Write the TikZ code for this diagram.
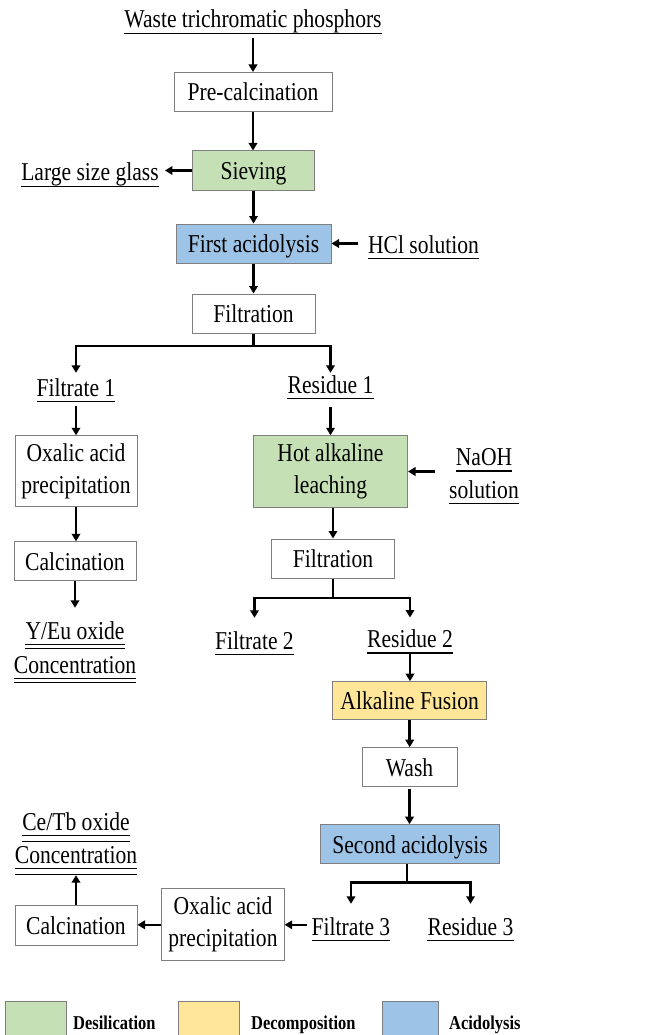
\documentclass[tikz,border=0pt]{standalone}
\usepackage{fontspec}
\setmainfont{Liberation Serif}[FakeStretch=0.84]
\usetikzlibrary{arrows.meta}
\definecolor{cgreen}{RGB}{197,224,180}
\definecolor{cyellow}{RGB}{255,230,153}
\definecolor{cblue}{RGB}{157,195,230}
\definecolor{cborder}{RGB}{127,127,127}
\newcommand{\mainfs}{\fontsize{25.7pt}{32pt}\selectfont}
\newcommand{\legfs}{\fontsize{19.6pt}{22pt}\selectfont\bfseries}
\begin{document}
\begin{tikzpicture}[x=1pt,y=-1pt,
  pbox/.style={draw=cborder, line width=1pt, inner sep=0pt, font=\mainfs, align=center},
  sbox/.style={pbox, text height=18.5pt, text depth=0.5pt},
  tx/.style={font=\mainfs, inner xsep=0pt, inner ysep=0pt, text height=17pt, text depth=5pt, anchor=base},
  arr/.style={line width=2.6pt, -{Triangle[length=7.5pt,width=8.5pt]}},
  ln/.style={line width=2.6pt},
  ul/.style={line width=1.2pt},
  legbox/.style={draw=cborder, line width=1pt},
  legtx/.style={font=\legfs, inner sep=0pt, anchor=base west}]
\useasboundingbox (0,0) rectangle (659,1035);

% ---------- main column ----------
\node[tx] (waste) at (253,28) {Waste trichromatic phosphors};
\node[sbox, minimum width=158pt, minimum height=39pt] (pre) at (253,92) {Pre-calcination};
\node[sbox, fill=cgreen, minimum width=122pt, minimum height=39pt] (siev) at (253.5,170.5) {Sieving};
\node[tx] (glass) at (90,181) {Large size glass};
\node[sbox, fill=cblue, minimum width=155pt, minimum height=39pt] (acid1) at (253.5,243.5) {First acidolysis};
\node[tx] (hcl) at (423.5,253) {HCl solution};
\node[sbox, minimum width=123pt, minimum height=39pt] (filt1) at (253.5,313.5) {Filtration};

% left branch
\node[tx] (fil1) at (76,396) {Filtrate 1};
\node[pbox, minimum width=122pt, minimum height=71pt] (ox1) at (76,471.3) {Oxalic acid\\precipitation};
\node[sbox, minimum width=122pt, minimum height=39pt] (calc1) at (75,561.3) {Calcination};
\node[tx] (yeu1) at (75,639) {Y/Eu oxide};
\node[tx] (yeu2) at (75,673.3) {Concentration};

% right branch
\node[tx] (res1) at (330.5,393) {Residue 1};
\node[pbox, fill=cgreen, minimum width=154pt, minimum height=71.5pt] (hot) at (330.5,471.5) {Hot alkaline\\leaching};
\node[tx] (naoh1) at (484,465.7) {NaOH};
\node[tx] (naoh2) at (484,498) {solution};
\coordinate (naohin) at (435,471.5);
\node[sbox, minimum width=122.6pt, minimum height=39pt] (filt2) at (333,558.5) {Filtration};
\node[tx] (fil2) at (254.5,649) {Filtrate 2};
\node[tx] (res2) at (410,647.7) {Residue 2};
\node[sbox, fill=cyellow, minimum width=154pt, minimum height=37.6pt] (fus) at (409.7,700.5) {Alkaline Fusion};
\node[sbox, minimum width=95pt, minimum height=39pt] (wash) at (409.5,767.2) {Wash};
\node[sbox, fill=cblue, minimum width=178.3pt, minimum height=38.6pt] (acid2) at (410,844) {Second acidolysis};
\node[tx] (fil3) at (351,935) {Filtrate 3};
\node[tx] (res3) at (470.5,935) {Residue 3};
\node[pbox, minimum width=122.3pt, minimum height=72.3pt] (ox2) at (223,924.8) {Oxalic acid\\precipitation};
\node[sbox, minimum width=122pt, minimum height=39.7pt] (calc2) at (76,925.2) {Calcination};
\node[tx] (cetb1) at (76,830) {Ce/Tb oxide};
\node[tx] (cetb2) at (76,863) {Concentration};

% ---------- underlines ----------
\foreach \n in {waste,glass,hcl,fil1,res1,naoh1,naoh2,fil2,res2,fil3,res3}{
  \draw[ul] (\n.south west) -- (\n.south east);
}
\foreach \n in {yeu1,yeu2}{
  \draw[ul] (\n.south west) -- (\n.south east);
  \draw[ul] ([yshift=-4.3pt]\n.south west) -- ([yshift=-4.3pt]\n.south east);
}
\foreach \n in {cetb1,cetb2}{
  \draw[ul] (\n.south west) -- (\n.south east);
  \draw[ul] ([yshift=-6pt]\n.south west) -- ([yshift=-6pt]\n.south east);
}

% ---------- connectors ----------
\draw[arr, shorten <=5pt] (waste.south) -- (waste.south |- pre.north);
\draw[arr] (pre.south) -- (pre.south |- siev.north);
\draw[arr, shorten >=6pt] (siev.west) -- (glass.east |- siev.west);
\draw[arr] (siev.south) -- (siev.south |- acid1.north);
\draw[arr, shorten <=10pt] (hcl.west |- acid1.east) -- (acid1.east);
\draw[arr] (acid1.south) -- (acid1.south |- filt1.north);

\coordinate (s1) at (253.5,346);
\draw[ln] (filt1.south) -- (s1);
\draw[arr, shorten >=6pt] (s1) -| (fil1.north);
\draw[arr, shorten >=3pt] (s1) -| (res1.north);

\draw[arr, shorten <=5pt] (fil1.south) -- (fil1.south |- ox1.north);
\draw[arr] (ox1.south) -- (ox1.south |- calc1.north);
\draw[arr, shorten >=14pt] (calc1.south) -- (calc1.south |- yeu1.north);

\draw[arr, shorten <=9pt] (res1.south) -- (res1.south |- hot.north);
\draw[arr] (naohin) -- (hot.east);
\draw[arr] (hot.south -| filt2.north) -- (filt2.north);

\coordinate (s2) at (333,598);
\draw[ln] (filt2.south) -- (s2);
\draw[arr, shorten >=14pt] (s2) -| (fil2.north);
\draw[arr, shorten >=13pt] (s2) -| (res2.north);

\draw[arr] (res2.south) -- (res2.south |- fus.north);
\draw[arr] (fus.south) -- (fus.south |- wash.north);
\draw[arr, shorten <=2pt] (wash.south) -- (wash.south |- acid2.north);

\coordinate (s3) at (407,882.7);
\draw[ln] (acid2.south -| s3) -- (s3);
\draw[arr, shorten >=14pt] (s3) -| (fil3.north);
\draw[arr, shorten >=14pt] (s3) -| (res3.north);

\draw[arr, shorten <=5pt] (fil3.west |- ox2.east) -- (ox2.east);
\draw[arr] (ox2.west) -- (ox2.west -| calc2.east);
\draw[arr, shorten >=7pt] (calc2.north) -- (calc2.north |- cetb2.south);

% ---------- legend ----------
\begin{scope}
\clip (0,0) rectangle (659,1035);
\draw[legbox, fill=cgreen] (5.7,1001.7) rectangle (66.7,1045);
\draw[legbox, fill=cyellow] (178.3,1001.7) rectangle (239,1045);
\draw[legbox, fill=cblue] (382.7,1001.7) rectangle (438.7,1045);
\end{scope}
\node[legtx] (l1) at (73,1029) {Desilication};
\node[legtx] (l2) at (251,1029) {Decomposition};
\node[legtx] (l3) at (449,1029) {Acidolysis};
\end{tikzpicture}
\end{document}
